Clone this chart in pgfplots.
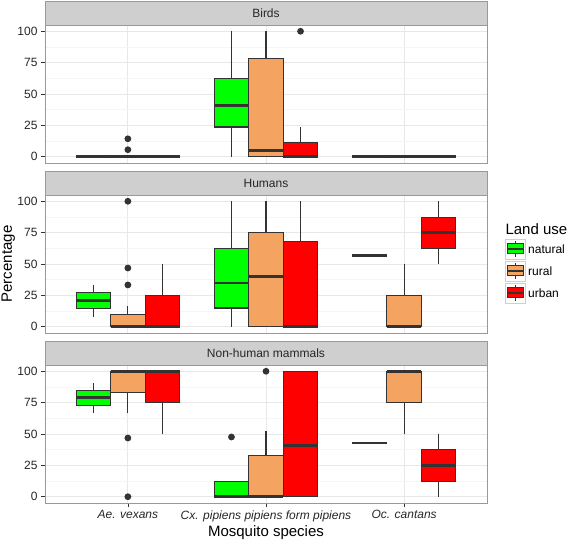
\documentclass[border=0pt]{standalone}
\usepackage{pgfplots}
\pgfplotsset{compat=1.18}
\usepgfplotslibrary{statistics}
\usepackage{fontspec}
\setmainfont{Liberation Sans}
\definecolor{natc}{HTML}{00FF00}
\definecolor{rurc}{HTML}{F4A460}
\definecolor{urbc}{HTML}{FF0000}
\definecolor{g20}{HTML}{333333}
\definecolor{g50}{HTML}{999999}
\definecolor{g80}{HTML}{CFCFCF}
\definecolor{g90}{HTML}{E8E8E8}
\definecolor{g95}{HTML}{F5F5F5}
\pgfplotsset{
  panel/.style={scale only axis, width=442pt, height=138pt, anchor=south west,
    xmin=0.4, xmax=3.6, ymin=-5, ymax=105,
    xtick={1,2,3}, ytick={0,25,50,75,100}, minor ytick={12.5,37.5,62.5,87.5},
    grid=both, major grid style={g90, line width=0.8pt}, minor grid style={g95, line width=0.5pt},
    axis line style={g50, line width=0.8pt},
    tick align=outside, major tick length=4pt, minor tick length=0pt,
    every tick/.style={g20, line width=0.7pt},
    xtick pos=bottom, ytick pos=left,
    /pgf/number format/assume math mode=true,
    tick label style={font=\fontsize{12}{14}\selectfont, text=black!85},
  },
  bx/.style={draw=g20, line width=1.1pt, fill=#1,
    boxplot/draw direction=y,
    boxplot/box extend=0.25, boxplot/whisker extend=0,
    boxplot/every box/.style={fill=#1, draw=g20, line width=1.1pt},
    boxplot/every whisker/.style={draw=g20, line width=1.1pt},
    boxplot/every median/.style={draw=g20, line width=2.6pt},
    mark=*, mark size=2.8pt, mark options={solid, fill=g20, draw=none}},
}
\begin{document}
\begin{tikzpicture}
\useasboundingbox (0,0) rectangle (567pt,541pt);
% ---------------- Birds
\begin{axis}[panel, name=p1, at={(45pt,378pt)}, xticklabels={}, xtick style={draw=none}]
\addplot[bx=natc, boxplot prepared={draw position=0.75, lower whisker=0, lower quartile=0, median=0, upper quartile=0, upper whisker=0}] coordinates {};
\addplot[bx=rurc, boxplot prepared={draw position=1.0, lower whisker=0, lower quartile=0, median=0, upper quartile=0, upper whisker=0}] table[row sep=\\, y index=0] {v\\ 14.3\\ 5.6\\};
\addplot[bx=urbc, boxplot prepared={draw position=1.25, lower whisker=0, lower quartile=0, median=0, upper quartile=0, upper whisker=0}] coordinates {};
\addplot[bx=natc, boxplot prepared={draw position=1.75, lower whisker=0, lower quartile=23.7, median=41, upper quartile=62.5, upper whisker=100}] coordinates {};
\addplot[bx=rurc, boxplot prepared={draw position=2.0, lower whisker=0, lower quartile=0, median=5, upper quartile=78.5, upper whisker=100}] coordinates {};
\addplot[bx=urbc, boxplot prepared={draw position=2.25, lower whisker=0, lower quartile=0, median=0, upper quartile=11.5, upper whisker=23.4}] table[row sep=\\, y index=0] {v\\ 100\\};
\addplot[bx=natc, boxplot prepared={draw position=2.75, lower whisker=0, lower quartile=0, median=0, upper quartile=0, upper whisker=0}] coordinates {};
\addplot[bx=rurc, boxplot prepared={draw position=3.0, lower whisker=0, lower quartile=0, median=0, upper quartile=0, upper whisker=0}] coordinates {};
\addplot[bx=urbc, boxplot prepared={draw position=3.25, lower whisker=0, lower quartile=0, median=0, upper quartile=0, upper whisker=0}] coordinates {};
\end{axis}
\draw[fill=g80, draw=g50, line width=0.8pt] (p1.north west) rectangle ([yshift=24pt]p1.north east);
\node[font=\fontsize{12}{14}\selectfont, text=black!85] at ([yshift=12pt]p1.north) {Birds};
% ---------------- Humans
\begin{axis}[panel, name=p2, at={(45pt,208pt)}, xticklabels={}, xtick style={draw=none}]
\addplot[bx=natc, boxplot prepared={draw position=0.75, lower whisker=8, lower quartile=14.4, median=20.7, upper quartile=27, upper whisker=33.2}] coordinates {};
\addplot[bx=rurc, boxplot prepared={draw position=1.0, lower whisker=0, lower quartile=0, median=0, upper quartile=9.6, upper whisker=16.5}] table[row sep=\\, y index=0] {v\\ 33.3\\ 46.8\\ 100\\};
\addplot[bx=urbc, boxplot prepared={draw position=1.25, lower whisker=0, lower quartile=0, median=0, upper quartile=25, upper whisker=50}] coordinates {};
\addplot[bx=natc, boxplot prepared={draw position=1.75, lower whisker=0, lower quartile=14.9, median=34.8, upper quartile=62.3, upper whisker=100}] coordinates {};
\addplot[bx=rurc, boxplot prepared={draw position=2.0, lower whisker=0, lower quartile=0, median=40, upper quartile=75, upper whisker=100}] coordinates {};
\addplot[bx=urbc, boxplot prepared={draw position=2.25, lower whisker=0, lower quartile=0, median=0, upper quartile=67.6, upper whisker=100}] coordinates {};
\addplot[bx=natc, boxplot prepared={draw position=2.75, lower whisker=57, lower quartile=57, median=57, upper quartile=57, upper whisker=57}] coordinates {};
\addplot[bx=rurc, boxplot prepared={draw position=3.0, lower whisker=0, lower quartile=0, median=0, upper quartile=25, upper whisker=50}] coordinates {};
\addplot[bx=urbc, boxplot prepared={draw position=3.25, lower whisker=50, lower quartile=62.3, median=75, upper quartile=87.3, upper whisker=100}] coordinates {};
\end{axis}
\draw[fill=g80, draw=g50, line width=0.8pt] (p2.north west) rectangle ([yshift=24pt]p2.north east);
\node[font=\fontsize{12}{14}\selectfont, text=black!85] at ([yshift=12pt]p2.north) {Humans};
% ---------------- Non-human mammals
\begin{axis}[panel, name=p3, at={(45pt,38pt)},
  xticklabels={Ae. vexans, Cx. pipiens pipiens form pipiens, Oc. cantans},
  xticklabel style={font=\itshape\fontsize{12}{14}\selectfont}]
\addplot[bx=natc, boxplot prepared={draw position=0.75, lower whisker=66.5, lower quartile=72.7, median=79, upper quartile=85, upper whisker=91}] coordinates {};
\addplot[bx=rurc, boxplot prepared={draw position=1.0, lower whisker=66.5, lower quartile=83.3, median=100, upper quartile=100, upper whisker=100}] table[row sep=\\, y index=0] {v\\ 46.8\\ 0\\};
\addplot[bx=urbc, boxplot prepared={draw position=1.25, lower whisker=50, lower quartile=75, median=100, upper quartile=100, upper whisker=100}] coordinates {};
\addplot[bx=natc, boxplot prepared={draw position=1.75, lower whisker=0, lower quartile=0, median=0, upper quartile=11.8, upper whisker=11.8}] table[row sep=\\, y index=0] {v\\ 47.6\\};
\addplot[bx=rurc, boxplot prepared={draw position=2.0, lower whisker=0, lower quartile=0, median=0, upper quartile=33.1, upper whisker=52.4}] table[row sep=\\, y index=0] {v\\ 100\\};
\addplot[bx=urbc, boxplot prepared={draw position=2.25, lower whisker=0, lower quartile=0, median=41, upper quartile=100, upper whisker=100}] coordinates {};
\addplot[bx=natc, boxplot prepared={draw position=2.75, lower whisker=42.7, lower quartile=42.7, median=42.7, upper quartile=42.7, upper whisker=42.7}] coordinates {};
\addplot[bx=rurc, boxplot prepared={draw position=3.0, lower whisker=50, lower quartile=75, median=100, upper quartile=100, upper whisker=100}] coordinates {};
\addplot[bx=urbc, boxplot prepared={draw position=3.25, lower whisker=0, lower quartile=12.2, median=25, upper quartile=37.3, upper whisker=50}] coordinates {};
\end{axis}
\draw[fill=g80, draw=g50, line width=0.8pt] (p3.north west) rectangle ([yshift=24pt]p3.north east);
\node[font=\fontsize{12}{14}\selectfont, text=black!85] at ([yshift=12pt]p3.north) {Non-human mammals};
% axis titles
\node[anchor=base, font=\fontsize{15}{18}\selectfont] at (266pt,5pt) {Mosquito species};
\node[rotate=90, anchor=base, font=\fontsize{15}{18}\selectfont] at (12pt,277pt) {Percentage};
% legend
\node[anchor=base west, font=\fontsize{15}{18}\selectfont] at (502pt,306pt) {Land use};
\foreach \c/\t/\yc in {natc/natural/292pt, rurc/rural/270pt, urbc/urban/248pt} {
  \begin{scope}[shift={(515pt,\yc)}]
    \draw[fill=white, draw=g80, line width=0.8pt] (-10pt,-10pt) rectangle (10pt,10pt);
    \draw[g20, line width=1pt] (0,-8pt) -- (0,8pt);
    \draw[fill=\c, draw=g20, line width=1pt] (-8pt,-5pt) rectangle (8pt,5pt);
    \draw[g20, line width=2pt] (-8pt,0) -- (8pt,0);
  \end{scope}
  \node[anchor=west, font=\fontsize{12}{14}\selectfont, inner sep=0pt] at (528pt,\yc) {\t};
}
\end{tikzpicture}
\end{document}
